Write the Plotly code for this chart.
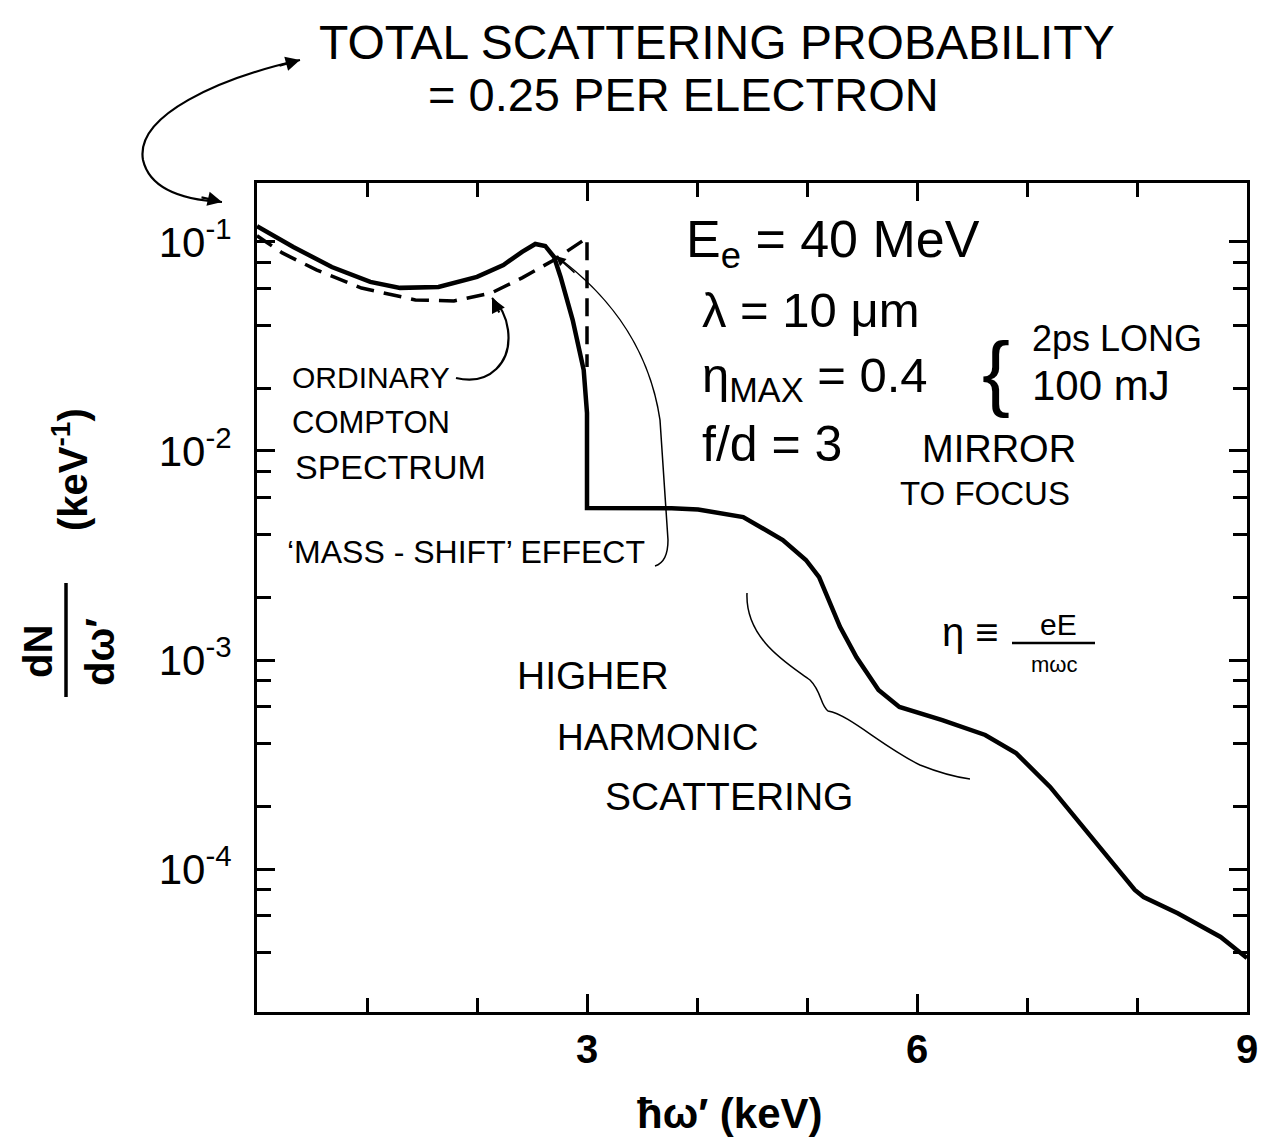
import plotly.graph_objects as go

# ---------------- data ----------------
# Full spectrum including the 'mass-shift' / higher-harmonic scattering (solid line)
total_energy_keV = [0.00, 0.33, 0.68, 1.03, 1.30, 1.65, 2.00, 2.24, 2.41, 2.53, 2.62,
                    2.70, 2.76, 2.87, 2.97, 3.00, 3.00, 3.35, 3.77, 4.01, 4.42, 4.78,
                    4.99, 5.11, 5.30, 5.45, 5.65, 5.84, 6.23, 6.62, 6.90, 7.21, 7.59,
                    7.98, 8.06, 8.37, 8.76, 9.00]
total_dNdw = [0.119, 0.0946, 0.0759, 0.0644, 0.0603, 0.0609, 0.0681, 0.0776, 0.0896, 0.0978, 0.0957,
              0.0848, 0.068, 0.0423, 0.0244, 0.0152, 0.00533, 0.00533, 0.00532, 0.00525, 0.00483, 0.00375,
              0.00301, 0.00249, 0.00144, 0.00103, 0.000718, 0.000596, 0.000516, 0.000438, 0.000359, 0.000247, 0.000142,
              7.94e-5, 7.35e-5, 6.15e-5, 4.73e-5, 3.75e-5]

# Ordinary Compton spectrum (dashed line)
compton_energy_keV = [0.00, 0.23, 0.54, 0.95, 1.44, 1.79, 2.13, 2.41, 2.70, 3.00, 3.00]
compton_dNdw = [0.107, 0.0886, 0.0735, 0.0602, 0.0528, 0.0522, 0.0570, 0.0673, 0.082, 0.1045, 0.0252]

# axis ticks
x_major_ticks = [3, 6, 9]
x_major_labels = ["3", "6", "9"]
x_minor_ticks = [1, 2, 4, 5, 7, 8]
y_major_ticks = [1e-4, 1e-3, 1e-2, 1e-1]
y_major_labels = ["10<sup>-4</sup>", "10<sup>-3</sup>", "10<sup>-2</sup>", "10<sup>-1</sup>"]
y_minor_ticks = [m * 10.0 ** e for e in (-5, -4, -3, -2, -1) for m in (2, 4, 6, 8)]

# ---------------- layout geometry ----------------
W, H = 1270, 1148
L, R, T, B = 257, 23, 183, 136
PW, PH = W - L - R, H - T - B


def px(x):
    return (x - L) / PW


def py(y):
    return (H - B - y) / PH


def path(points):
    # points: list of ('M'|'C'|'L'|'Q', [(x,y),...]) in pixel coordinates
    parts = []
    for cmd, pts in points:
        parts.append(cmd + " " + " ".join(f"{px(a):.5f},{py(b):.5f}" for a, b in pts))
    return " ".join(parts)


FONT = "Liberation Sans"
BLACK = "#000000"

fig = go.Figure()

fig.add_trace(go.Scatter(
    x=compton_energy_keV, y=compton_dNdw, mode="lines",
    line=dict(color=BLACK, width=3.5, dash="18px,10px"),
    showlegend=False, hoverinfo="skip"))

fig.add_trace(go.Scatter(
    x=total_energy_keV, y=total_dNdw, mode="lines",
    line=dict(color=BLACK, width=4.5, shape="linear"),
    showlegend=False, hoverinfo="skip"))

fig.update_layout(
    width=W, height=H,
    margin=dict(l=L, r=R, t=T, b=B),
    paper_bgcolor="white", plot_bgcolor="white",
    font=dict(family=FONT, color=BLACK, size=30),
    showlegend=False,
)

fig.update_xaxes(
    range=[0, 9], showgrid=False, zeroline=False,
    showline=True, linecolor=BLACK, linewidth=3, mirror="ticks",
    ticks="inside", ticklen=18, tickwidth=3, tickcolor=BLACK,
    tickmode="array", tickvals=x_major_ticks, ticktext=x_major_labels,
    tickfont=dict(family=FONT, size=40, color=BLACK, weight="bold"),
    minor=dict(tickmode="array", tickvals=x_minor_ticks, ticks="inside",
               ticklen=14, tickwidth=3, tickcolor=BLACK, showgrid=False),
)

fig.update_yaxes(
    type="log", range=[-4.684, -0.718], showgrid=False, zeroline=False,
    showline=True, linecolor=BLACK, linewidth=3, mirror="ticks",
    ticks="inside", ticklen=18, tickwidth=3, tickcolor=BLACK,
    tickmode="array", tickvals=y_major_ticks, ticktext=y_major_labels,
    tickfont=dict(family=FONT, size=42, color=BLACK),
    ticklabelstandoff=14,
    minor=dict(tickmode="array", tickvals=y_minor_ticks, ticks="inside",
               ticklen=14, tickwidth=3, tickcolor=BLACK, showgrid=False),
)

ann = []


def text(s, x, y, size, bold=False, angle=0, xanchor="center"):
    ann.append(dict(text=s, x=px(x), y=py(y), xref="paper", yref="paper",
                    showarrow=False, xanchor=xanchor, yanchor="middle",
                    textangle=angle,
                    font=dict(family=FONT, size=size, color=BLACK,
                              weight="bold" if bold else "normal")))


def arrowhead(x, y, dx, dy, width=2.2, size=1.3):
    ann.append(dict(text="", x=px(x), y=py(y), xref="paper", yref="paper",
                    showarrow=True, ax=dx, ay=dy, arrowhead=2,
                    arrowsize=size, arrowwidth=width, arrowcolor=BLACK,
                    font=dict(family=FONT, size=10, color=BLACK)))


# titles / notes
text("TOTAL SCATTERING PROBABILITY", 717, 42, 48)
text("= 0.25 PER ELECTRON", 683, 95, 47)

text("E<sub>e</sub> = 40 MeV", 684, 243, 52, xanchor="left")
text("λ = 10 μm", 700, 310, 49, xanchor="left")
text("η<sub>MAX</sub> = 0.4", 700, 378, 49, xanchor="left")
text("{", 996, 372, 84)
text("2ps LONG", 1030, 338, 36, xanchor="left")
text("100 mJ", 1030, 385, 42, xanchor="left")
text("f/d = 3", 700, 444, 50, xanchor="left")
text("MIRROR", 920, 449, 38, xanchor="left")
text("TO FOCUS", 898, 493, 33, xanchor="left")

text("ORDINARY", 290, 377, 30, xanchor="left")
text("COMPTON", 290, 422, 31, xanchor="left")
text("SPECTRUM", 293, 467, 34, xanchor="left")
text("‘MASS - SHIFT’ EFFECT", 285, 552, 32, xanchor="left")

text("HIGHER", 515, 675, 39, xanchor="left")
text("HARMONIC", 555, 737, 37, xanchor="left")
text("SCATTERING", 603, 796, 39, xanchor="left")

text("η ≡", 940, 632, 40, xanchor="left")
text("eE", 1058, 624, 30)
text("mωc", 1054, 664, 22)

# axis titles
text("ħω′ (keV)", 730, 1113, 42, bold=True)
text("dN", 38, 652, 40, bold=True, angle=-90)
text("dω′", 100, 652, 40, bold=True, angle=-90)
text("(keV<sup>-1</sup>)", 70, 470, 40, bold=True, angle=-90)

# arrowheads
arrowhead(300, 60, -22, 6)
arrowhead(222, 202, -22, -5)
arrowhead(492, 298, 8, 16)
arrowhead(556, 256, 20, 18, width=1.5)

fig.update_layout(annotations=ann)

shapes = []


def curve(d, width=2.2):
    shapes.append(dict(type="path", path=d, xref="paper", yref="paper",
                       line=dict(color=BLACK, width=width)))


# curved arrow from title to the top-left of the plot
curve(path([("M", [(300, 60)]),
            ("C", [(220, 78), (135, 115), (143, 160)]),
            ("C", [(150, 190), (185, 200), (222, 202)])]))
# ORDINARY COMPTON -> dashed curve
curve(path([("M", [(456, 378)]),
            ("C", [(490, 386), (512, 362), (508, 330)]),
            ("C", [(506, 315), (500, 305), (492, 298)])]))
# mass-shift effect pointer
curve(path([("M", [(556, 256)]),
            ("C", [(600, 288), (648, 340), (660, 420)]),
            ("L", [(668, 540)]),
            ("Q", [(668, 562), (655, 566)])]), width=1.5)
# higher harmonic brace
curve(path([("M", [(747, 593)]),
            ("C", [(745, 640), (790, 665), (810, 680)]),
            ("C", [(822, 692), (820, 705), (828, 711)]),
            ("C", [(850, 715), (880, 745), (920, 765)]),
            ("C", [(940, 773), (955, 777), (970, 779)])]), width=1.5)
# fraction bars
shapes.append(dict(type="line", xref="paper", yref="paper",
                   x0=px(1012), x1=px(1095), y0=py(643), y1=py(643),
                   line=dict(color=BLACK, width=2.5)))
shapes.append(dict(type="line", xref="paper", yref="paper",
                   x0=px(66), x1=px(66), y0=py(583), y1=py(697),
                   line=dict(color=BLACK, width=3.5)))

fig.update_layout(shapes=shapes)

fig.write_html("out.html")
